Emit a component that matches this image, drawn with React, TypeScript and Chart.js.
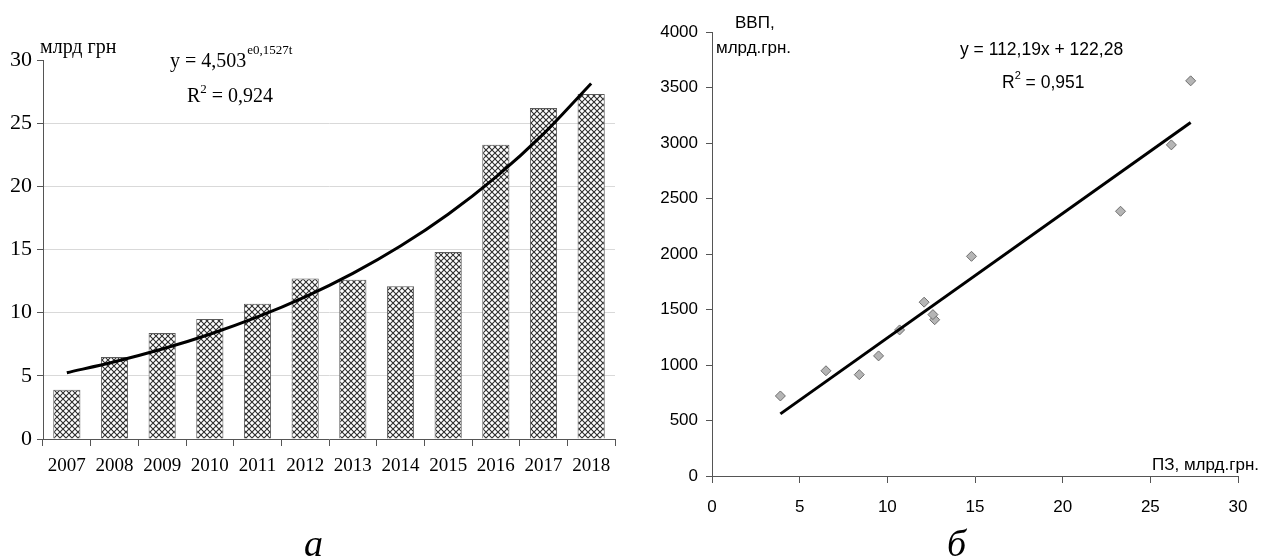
import React, { useEffect, useRef } from "react";
import { Chart, registerables } from "chart.js";

Chart.register(...registerables);

// Years and the ПЗ series (млрд грн) shown as bars
const YEARS = ["2007", "2008", "2009", "2010", "2011", "2012", "2013", "2014", "2015", "2016", "2017", "2018"];
const PZ = [3.9, 6.5, 8.4, 9.5, 10.7, 12.7, 12.6, 12.1, 14.8, 23.3, 26.2, 27.3];
// ВВП (млрд грн) for the same years, plotted against ПЗ
const GDP = [721, 948, 913, 1082, 1316, 1408, 1454, 1566, 1979, 2385, 2983, 3560];

// Exponential trend: y = A * e^(B t), t = 1..12
const EXP_A = 4.503;
const EXP_B = 0.1527;
const EXP_R2 = "0,924";
// Linear trend: y = K x + C
const LIN_K = 112.19;
const LIN_C = 122.28;
const LIN_R2 = "0,951";

const SERIF = "'Liberation Serif', 'Times New Roman', serif";
const SANS = "'Liberation Sans', Arial, sans-serif";

function makeHatch(): CanvasPattern | string {
  const c = document.createElement("canvas");
  c.width = 6;
  c.height = 6;
  const g = c.getContext("2d");
  if (!g) return "#bbb";
  g.fillStyle = "#fff";
  g.fillRect(0, 0, 6, 6);
  g.strokeStyle = "#2e2e2e";
  g.lineWidth = 1.1;
  g.beginPath();
  g.moveTo(0, 0);
  g.lineTo(6, 6);
  g.moveTo(6, 0);
  g.lineTo(0, 6);
  g.stroke();
  return g.createPattern(c, "repeat") || "#bbb";
}

const leftText = {
  id: "leftText",
  afterDraw(chart: any) {
    const ctx = chart.ctx as CanvasRenderingContext2D;
    ctx.save();
    ctx.fillStyle = "#000";
    ctx.textBaseline = "alphabetic";
    ctx.textAlign = "left";
    ctx.font = `20px ${SERIF}`;
    ctx.fillText("млрд грн", 40, 53);

    const eq = "y = 4,503";
    ctx.fillText(eq, 170, 67);
    const w = ctx.measureText(eq).width;
    ctx.font = `13px ${SERIF}`;
    ctx.fillText("e0,1527t", 170 + w + 1, 54);

    ctx.font = `20px ${SERIF}`;
    ctx.fillText("R", 187, 102);
    const rw = ctx.measureText("R").width;
    ctx.font = `13px ${SERIF}`;
    ctx.fillText("2", 187 + rw, 93);
    const sw = ctx.measureText("2").width;
    ctx.font = `20px ${SERIF}`;
    ctx.fillText(" = " + EXP_R2, 187 + rw + sw, 102);

    ctx.font = `italic 38px ${SERIF}`;
    ctx.fillText("а", 304, 556);
    ctx.restore();
  },
};

const rightText = {
  id: "rightText",
  afterDraw(chart: any) {
    const ctx = chart.ctx as CanvasRenderingContext2D;
    ctx.save();
    ctx.fillStyle = "#000";
    ctx.textBaseline = "alphabetic";
    ctx.textAlign = "left";
    ctx.font = `17px ${SANS}`;
    ctx.fillText("ВВП,", 95, 28);
    ctx.fillText("млрд.грн.", 76, 53);
    ctx.fillText("ПЗ, млрд.грн.", 512, 470);

    ctx.font = `17.5px ${SANS}`;
    ctx.fillText("y = 112,19x + 122,28", 320, 55);
    ctx.fillText("R", 362, 88);
    const rw = ctx.measureText("R").width;
    ctx.font = `11px ${SANS}`;
    ctx.fillText("2", 362 + rw, 79);
    const sw = ctx.measureText("2").width;
    ctx.font = `17.5px ${SANS}`;
    ctx.fillText(" = " + LIN_R2, 362 + rw + sw, 88);

    ctx.font = `italic 38px ${SERIF}`;
    ctx.fillText("б", 307, 556);
    ctx.restore();
  },
};

function LeftChart() {
  const ref = useRef<HTMLCanvasElement>(null);
  useEffect(() => {
    if (!ref.current) return;
    const trend = YEARS.map((_, i) => EXP_A * Math.exp(EXP_B * (i + 1)));
    const chart = new Chart(ref.current, {
      type: "bar",
      data: {
        labels: YEARS,
        datasets: [
          {
            type: "line",
            data: trend,
            borderColor: "#000",
            borderWidth: 3,
            pointRadius: 0,
            cubicInterpolationMode: "monotone",
            order: 0,
          } as any,
          {
            type: "bar",
            data: PZ,
            backgroundColor: makeHatch() as any,
            borderColor: "#5a5a5a",
            borderWidth: 1,
            categoryPercentage: 1,
            barPercentage: 0.57,
            order: 1,
          } as any,
        ],
      },
      options: {
        animation: false,
        responsive: false,
        layout: { padding: { top: 60, right: 25, left: 0, bottom: 0 } },
        plugins: { legend: { display: false }, tooltip: { enabled: false } },
        scales: {
          x: {
            grid: { drawOnChartArea: false, offset: true, color: "#555", tickLength: 7 },
            border: { color: "#555", width: 1 },
            ticks: { color: "#000", font: { family: SERIF, size: 19 }, padding: 9, maxRotation: 0, autoSkip: false },
            afterFit: (s: any) => {
              s.height = 121;
            },
          },
          y: {
            min: 0,
            max: 30,
            ticks: { stepSize: 5, color: "#000", font: { family: SERIF, size: 22 }, padding: 5 },
            grid: {
              color: (c: any) => (c.tick && (c.tick.value === 0 || c.tick.value === 30) ? "rgba(0,0,0,0)" : "#d9d9d9"),
              tickColor: "#555",
              tickLength: 6,
            },
            border: { color: "#555", width: 1 },
            afterFit: (s: any) => {
              s.width = 43;
            },
          },
        },
      } as any,
      plugins: [leftText],
    });
    return () => chart.destroy();
  }, []);
  return <canvas ref={ref} width={640} height={560} />;
}

function RightChart() {
  const ref = useRef<HTMLCanvasElement>(null);
  useEffect(() => {
    if (!ref.current) return;
    const xMin = Math.min(...PZ);
    const xMax = Math.max(...PZ);
    const chart = new Chart(ref.current, {
      type: "scatter",
      data: {
        datasets: [
          {
            type: "line",
            data: [
              { x: xMin, y: LIN_K * xMin + LIN_C },
              { x: xMax, y: LIN_K * xMax + LIN_C },
            ],
            borderColor: "#000",
            borderWidth: 3,
            pointRadius: 0,
            order: 0,
          } as any,
          {
            type: "scatter",
            data: PZ.map((x, i) => ({ x, y: GDP[i] })),
            pointStyle: "rectRot",
            pointRadius: 5,
            backgroundColor: "#b5b5b5",
            borderColor: "#6e6e6e",
            borderWidth: 1,
            order: 1,
          } as any,
        ],
      },
      options: {
        animation: false,
        responsive: false,
        layout: { padding: { top: 32, right: 31, left: 0, bottom: 0 } },
        plugins: { legend: { display: false }, tooltip: { enabled: false } },
        scales: {
          x: {
            type: "linear",
            min: 0,
            max: 30,
            ticks: {
              stepSize: 5,
              color: "#000",
              font: { family: SANS, size: 17 },
              padding: 14,
              callback: (v: any) => String(v),
            },
            grid: { drawOnChartArea: false, color: "#555", tickLength: 7 },
            border: { color: "#555", width: 1 },
            afterFit: (s: any) => {
              s.height = 84;
            },
          },
          y: {
            min: 0,
            max: 4000,
            ticks: {
              stepSize: 500,
              color: "#000",
              font: { family: SANS, size: 17 },
              padding: 8,
              callback: (v: any) => String(v),
            },
            grid: { drawOnChartArea: false, color: "#555", tickLength: 6 },
            border: { color: "#555", width: 1 },
            afterFit: (s: any) => {
              s.width = 72;
            },
          },
        },
      } as any,
      plugins: [rightText],
    });
    return () => chart.destroy();
  }, []);
  return <canvas ref={ref} width={629} height={560} />;
}

export default function App() {
  return (
    <div style={{ position: "fixed", left: 0, top: 0, width: 1269, height: 560, background: "#fff" }}>
      <div style={{ position: "absolute", left: 0, top: 0, width: 640, height: 560 }}>
        <LeftChart />
      </div>
      <div style={{ position: "absolute", left: 640, top: 0, width: 629, height: 560 }}>
        <RightChart />
      </div>
    </div>
  );
}
